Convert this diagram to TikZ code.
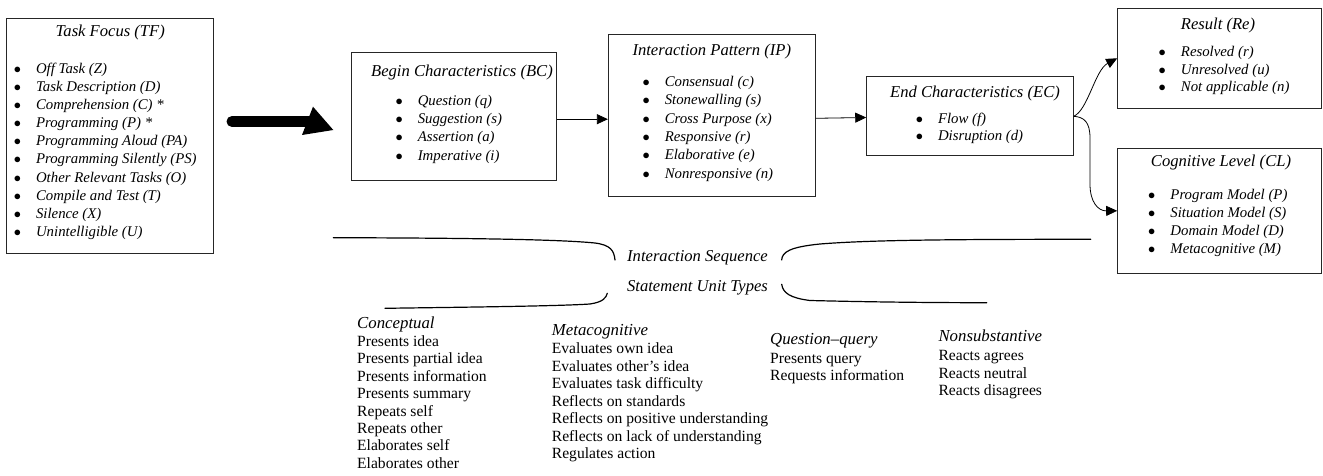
\documentclass[tikz,border=0pt]{standalone}
\usepackage{fontspec}
\setmainfont{Liberation Serif}
\usetikzlibrary{arrows.meta}
\tikzset{
  box/.style={draw=black!85, line width=0.9pt, inner sep=0pt},
  txt/.style={inner sep=0pt, text height=1em, text depth=0.35em},
  ttl/.style={txt, font=\itshape\fontsize{16.6}{18}\selectfont, anchor=center},
  itm/.style={txt, font=\itshape\fontsize{14.8}{17}\selectfont, anchor=west,
              execute at begin node={\makebox[22.25pt][l]{$\bullet$}}},
  hd/.style={txt, font=\itshape\fontsize{16.8}{18}\selectfont, anchor=west},
  lst/.style={txt, font=\fontsize{15.6}{17}\selectfont, anchor=west},
  brl/.style={txt, font=\itshape\fontsize{16.6}{18}\selectfont, anchor=center},
  conn/.style={line width=0.8pt, -{Triangle[length=11pt,width=10pt]}},
  brace/.style={line width=1.2pt, line cap=round},
}
\begin{document}
\begin{tikzpicture}[x=1pt,y=-1pt]
\useasboundingbox (0,0) rectangle (1323,476);

% boxes
\node[box, minimum width=206.6pt, minimum height=234.7pt] (tf) at (110,135.7) {};
\node[box, minimum width=205pt, minimum height=127.7pt] (bc) at (454.2,116.2) {};
\node[box, minimum width=206.7pt, minimum height=161.7pt] (ip) at (711.7,115.8) {};
\node[box, minimum width=206.6pt, minimum height=79.3pt] (ec) at (970,116.3) {};
\node[box, minimum width=203.3pt, minimum height=100pt] (re) at (1219.3,58.3) {};
\node[box, minimum width=203.3pt, minimum height=125pt] (cl) at (1219.3,210.8) {};

% titles
\node[ttl] (tft) at (110.3,33.3) {Task Focus (TF)};
\node[ttl] (bct) at (462,73.3) {Begin Characteristics (BC)};
\node[ttl] (ipt) at (711.8,52.7) {Interaction Pattern (IP)};
\node[ttl] (ect) at (975,94.3) {End Characteristics (EC)};
\node[ttl] (ret) at (1218,26.7) {Result (Re)};
\node[ttl] (clt) at (1221,163.3) {Cognitive Level (CL)};

% items
\foreach \t [count=\i from 0] in {Off Task (Z), Task Description (D), Comprehension (C) *, Programming (P) *,
  Programming Aloud (PA), Programming Silently (PS), Other Relevant Tasks (O), Compile and Test (T),
  Silence (X), Unintelligible (U)}
  \node[itm] (tf-\i) at (13.6,70+18.15*\i) {\t};
\foreach \t [count=\i from 0] in {Question (q), Suggestion (s), Assertion (a), Imperative (i)}
  \node[itm] (bc-\i) at (395.3,102+18.3*\i) {\t};
\foreach \t [count=\i from 0] in {Consensual (c), Stonewalling (s), Cross Purpose (x), Responsive (r),
  Elaborative (e), Nonresponsive (n)}
  \node[itm] (ip-\i) at (642.3,83.3+18.3*\i) {\t};
\foreach \t [count=\i from 0] in {Flow (f), Disruption (d)}
  \node[itm] (ec-\i) at (915.6,120.7+17*\i) {\t};
\foreach \t [count=\i from 0] in {Resolved (r), Unresolved (u), Not applicable (n)}
  \node[itm] (re-\i) at (1158.5,53.3+17.5*\i) {\t};
\foreach \t [count=\i from 0] in {Program Model (P), Situation Model (S), Domain Model (D), Metacognitive (M)}
  \node[itm] (cl-\i) at (1148,196.7+18*\i) {\t};

% fat arrow
\coordinate (fa1) at (232,121.5);
\coordinate (fa2) at (333.3,130);
\draw[line width=11pt, line cap=round] (fa1) -- (310,121.5);
\fill (313,106.7) -- (fa2) -- (302,135) -- cycle;

% connectors
\draw[conn] ([yshift=-3pt]bc.east) -- ([yshift=-3pt]bc.east -| ip.west);
\draw[conn] ([yshift=-2.5pt]ip.east) -- ([yshift=-1.2pt]ec.west);
\draw[conn] (ec.east) .. controls (1088,110) and (1095,70) .. (re.west);
\draw[conn] (ec.east) .. controls (1084,117) and (1090,122) .. (1090,138) -- (1090,184)
  .. controls (1090,202) and (1098,211) .. (cl.west);

% brace labels
\node[brl] (is) at (697.5,258.3) {Interaction Sequence};
\node[brl] (su) at (697.5,288) {Statement Unit Types};

% braces
\draw[brace] (333.3,237.7) .. controls (450,238) and (555,239) .. (595,243)
  .. controls (610,245) and (614,250) .. (615,260);
\draw[brace] (781.7,260) .. controls (782,252) and (790,247) .. (820,244)
  .. controls (870,240) and (950,239.3) .. (1090.7,239.3);
\draw[brace] (385,308.3) .. controls (480,307) and (560,306) .. (590,304)
  .. controls (603,302) and (606,298) .. (607.3,293.3);
\draw[brace] (781.7,284.3) .. controls (783,293) and (790,298) .. (810,300.5)
  .. controls (870,302) and (930,302.7) .. (986.7,302.7);

% statement unit types
\node[hd] (h1) at (357,325) {Conceptual};
\foreach \t [count=\i from 0] in {Presents idea, Presents partial idea, Presents information, Presents summary,
  Repeats self, Repeats other, Elaborates self, Elaborates other}
  \node[lst] (c1-\i) at (357,343.3+17.39*\i) {\t};
\node[hd] (h2) at (551.7,332.3) {Metacognitive};
\foreach \t [count=\i from 0] in {Evaluates own idea, Evaluates other's idea, Evaluates task difficulty,
  Reflects on standards, Reflects on positive understanding, Reflects on lack of understanding, Regulates action}
  \node[lst] (c2-\i) at (551.7,350.7+17.5*\i) {\t};
\node[hd] (h3) at (770,341.7) {Question--query};
\foreach \t [count=\i from 0] in {Presents query, Requests information}
  \node[lst] (c3-\i) at (770,360+17.4*\i) {\t};
\node[hd] (h4) at (938.3,338.3) {Nonsubstantive};
\foreach \t [count=\i from 0] in {Reacts agrees, Reacts neutral, Reacts disagrees}
  \node[lst] (c4-\i) at (938.3,357.3+17.7*\i) {\t};
\end{tikzpicture}
\end{document}
